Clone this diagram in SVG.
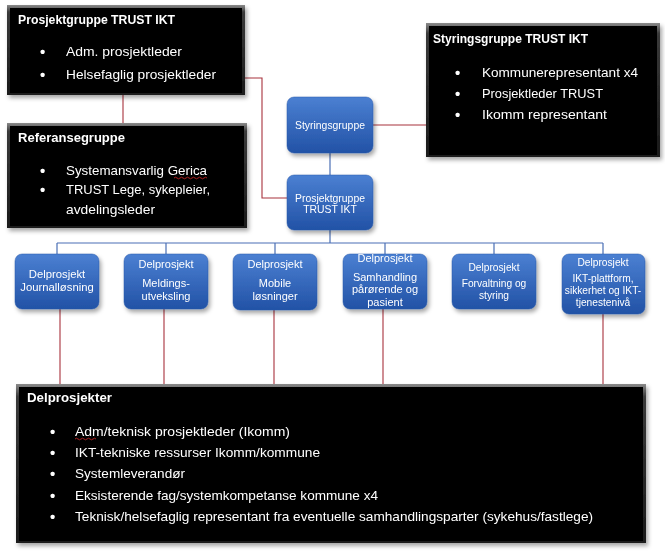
<svg xmlns="http://www.w3.org/2000/svg" width="665" height="557" viewBox="0 0 665 557">
<defs>
<linearGradient id="bevel" x1="0" y1="0" x2="0" y2="1">
<stop offset="0" stop-color="#8a8a8a"/><stop offset="0.08" stop-color="#3a3a3a"/><stop offset="1" stop-color="#1a1a1a"/>
</linearGradient>
<linearGradient id="blue" x1="0" y1="0" x2="0" y2="1">
<stop offset="0" stop-color="#4b80d2"/><stop offset="1" stop-color="#2252a6"/>
</linearGradient>
<linearGradient id="uline" x1="0" y1="0" x2="1" y2="0">
<stop offset="0" stop-color="#ffffff"/><stop offset="0.6" stop-color="#b0b0b0"/><stop offset="1" stop-color="#d0d0d0"/>
</linearGradient>
<filter id="sh" x="-10%" y="-10%" width="120%" height="130%">
<feDropShadow dx="2" dy="3" stdDeviation="2" flood-color="#000" flood-opacity="0.35"/>
</filter>
</defs>
<style>
.bt{font-family:"Liberation Sans",Arial,sans-serif;font-weight:bold;font-size:13px;fill:#fff}
.bl{font-family:"Liberation Sans",Arial,sans-serif;font-size:13px;fill:#fff}
.bu{font-family:"Liberation Sans",Arial,sans-serif;font-size:15px;font-weight:bold;fill:#fff}
.nt{font-family:"Liberation Sans",Arial,sans-serif;font-size:11px;fill:#fff;text-anchor:middle}
.ns{font-family:"Liberation Sans",Arial,sans-serif;font-size:10.2px;fill:#fff;text-anchor:middle}
.red{stroke:#a8323c;stroke-width:1.1;fill:none}
.blu{stroke:#4a6fb5;stroke-width:1.2;fill:none}
.outer{fill:url(#bevel)}
.inner{fill:#030303}
.node{fill:url(#blue);stroke:#2a5aa8;stroke-width:0.5}
.ul{stroke:url(#uline);stroke-width:1.5}
.sq{stroke:#d02020;stroke-width:0.8;fill:none}
</style>
<rect width="665" height="557" fill="#fff"/>

<g id="connectors">
<path class="red" d="M245,78 H262 V198 H287"/>
<path class="red" d="M123,95 V123"/>
<path class="red" d="M373,125 H426"/>
<path class="red" d="M60,309 V384 M164,309 V384 M274,310 V384 M383,309 V384 M603,314 V384"/>
<path class="blu" d="M330,153 V175"/>
<path class="blu" d="M330,230 V243 M57,243 H603 M57,243 V254 M166,243 V254 M275,243 V254 M385,243 V254 M494,243 V254 M603,243 V254"/>
</g>

<g id="prosjektgruppe-box" filter="url(#sh)">
<rect class="outer" x="7" y="5" width="238" height="90"/>
<rect class="inner" x="10" y="8" width="232" height="85"/>
<text class="bt" x="18" y="24" textLength="157" lengthAdjust="spacingAndGlyphs">Prosjektgruppe TRUST IKT</text>
<line class="ul" x1="15" y1="33" x2="223" y2="33"/>
<text class="bu" x="40" y="57">•</text><text class="bl" x="66" y="56" textLength="116" lengthAdjust="spacingAndGlyphs">Adm. prosjektleder</text>
<text class="bu" x="40" y="80">•</text><text class="bl" x="66" y="79" textLength="150" lengthAdjust="spacingAndGlyphs">Helsefaglig prosjektleder</text>
</g>

<g id="referansegruppe-box" filter="url(#sh)">
<rect class="outer" x="7" y="123" width="240" height="105"/>
<rect class="inner" x="10" y="126" width="234" height="100"/>
<text class="bt" x="18" y="142" textLength="107" lengthAdjust="spacingAndGlyphs">Referansegruppe</text>
<text class="bu" x="40" y="176">•</text><text class="bl" x="66" y="175" textLength="141" lengthAdjust="spacingAndGlyphs">Systemansvarlig Gerica</text>
<path class="sq" d="M174,178 q1.5,-1.5 3,0 t3,0 t3,0 t3,0 t3,0 t3,0 t3,0 t3,0 t3,0 t3,0 t3,0"/>
<text class="bu" x="40" y="195">•</text><text class="bl" x="66" y="194" textLength="144" lengthAdjust="spacingAndGlyphs">TRUST Lege, sykepleier,</text>
<text class="bl" x="66" y="214" textLength="89" lengthAdjust="spacingAndGlyphs">avdelingsleder</text>
</g>

<g id="styringsgruppe-box" filter="url(#sh)">
<rect class="outer" x="426" y="23" width="234" height="134"/>
<rect class="inner" x="429" y="26" width="228" height="129"/>
<text class="bt" x="433" y="43" textLength="155" lengthAdjust="spacingAndGlyphs">Styringsgruppe TRUST IKT</text>
<line class="ul" x1="436" y1="52" x2="646" y2="52"/>
<text class="bu" x="455" y="78">•</text><text class="bl" x="482" y="77" textLength="156" lengthAdjust="spacingAndGlyphs">Kommunerepresentant x4</text>
<text class="bu" x="455" y="99">•</text><text class="bl" x="482" y="98" textLength="121" lengthAdjust="spacingAndGlyphs">Prosjektleder TRUST</text>
<text class="bu" x="455" y="120">•</text><text class="bl" x="482" y="119" textLength="125" lengthAdjust="spacingAndGlyphs">Ikomm representant</text>
</g>

<g id="styringsgruppe" filter="url(#sh)">
<rect class="node" x="287" y="97" width="86" height="56" rx="7"/>
<text class="nt" x="330" y="129" style="font-size:10.4px">Styringsgruppe</text>
</g>

<g id="prosjektgruppe" filter="url(#sh)">
<rect class="node" x="287" y="175" width="86" height="55" rx="7"/>
<text class="nt" x="330" y="202" style="font-size:10.4px">Prosjektgruppe</text>
<text class="nt" x="330" y="213" style="font-size:10.4px">TRUST IKT</text>
</g>

<g id="dp-journal" filter="url(#sh)">
<rect class="node" x="15" y="254" width="84" height="55" rx="7"/>
<text class="nt" x="57" y="278" style="font-size:11.3px">Delprosjekt</text>
<text class="nt" x="57" y="291" style="font-size:11.3px">Journalløsning</text>
</g>

<g id="dp-melding" filter="url(#sh)">
<rect class="node" x="124" y="254" width="84" height="55" rx="7"/>
<text class="nt" x="166" y="268">Delprosjekt</text>
<text class="nt" x="166" y="287">Meldings-</text>
<text class="nt" x="166" y="300">utveksling</text>
</g>

<g id="dp-mobile" filter="url(#sh)">
<rect class="node" x="233" y="254" width="84" height="56" rx="7"/>
<text class="nt" x="275" y="268">Delprosjekt</text>
<text class="nt" x="275" y="287">Mobile</text>
<text class="nt" x="275" y="300">løsninger</text>
</g>

<g id="dp-samhandling" filter="url(#sh)">
<rect class="node" x="343" y="254" width="84" height="55" rx="7"/>
<text class="nt" x="385" y="262">Delprosjekt</text>
<text class="nt" x="385" y="281">Samhandling</text>
<text class="nt" x="385" y="293">pårørende og</text>
<text class="nt" x="385" y="306">pasient</text>
</g>

<g id="dp-forvaltning" filter="url(#sh)">
<rect class="node" x="452" y="254" width="84" height="55" rx="7"/>
<text class="ns" x="494" y="271">Delprosjekt</text>
<text class="ns" x="494" y="287">Forvaltning og</text>
<text class="ns" x="494" y="299">styring</text>
</g>

<g id="dp-ikt" filter="url(#sh)">
<rect class="node" x="562" y="254" width="83" height="60" rx="7"/>
<text class="ns" x="603" y="266">Delprosjekt</text>
<text class="ns" x="603" y="282">IKT-plattform,</text>
<text class="ns" x="603" y="294">sikkerhet og IKT-</text>
<text class="ns" x="603" y="306">tjenestenivå</text>
</g>

<g id="delprosjekter-box" filter="url(#sh)">
<rect class="outer" x="16" y="384" width="630" height="159"/>
<rect class="inner" x="19" y="387" width="624" height="154"/>
<text class="bt" x="27" y="402" textLength="85" lengthAdjust="spacingAndGlyphs">Delprosjekter</text>
<line class="ul" x1="23" y1="408" x2="340" y2="408"/>
<text class="bu" x="50" y="437">•</text><text class="bl" x="75" y="436" textLength="215" lengthAdjust="spacingAndGlyphs">Adm/teknisk prosjektleder (Ikomm)</text>
<path class="sq" d="M75,439 q1.5,-1.5 3,0 t3,0 t3,0 t3,0 t3,0 t3,0 t3,0"/>
<text class="bu" x="50" y="458">•</text><text class="bl" x="75" y="457" textLength="245" lengthAdjust="spacingAndGlyphs">IKT-tekniske ressurser Ikomm/kommune</text>
<text class="bu" x="50" y="479">•</text><text class="bl" x="75" y="478" textLength="110" lengthAdjust="spacingAndGlyphs">Systemleverandør</text>
<text class="bu" x="50" y="501">•</text><text class="bl" x="75" y="500" textLength="303" lengthAdjust="spacingAndGlyphs">Eksisterende fag/systemkompetanse kommune x4</text>
<text class="bu" x="50" y="522">•</text><text class="bl" x="75" y="521" textLength="518" lengthAdjust="spacingAndGlyphs">Teknisk/helsefaglig representant fra eventuelle samhandlingsparter (sykehus/fastlege)</text>
</g>
</svg>
